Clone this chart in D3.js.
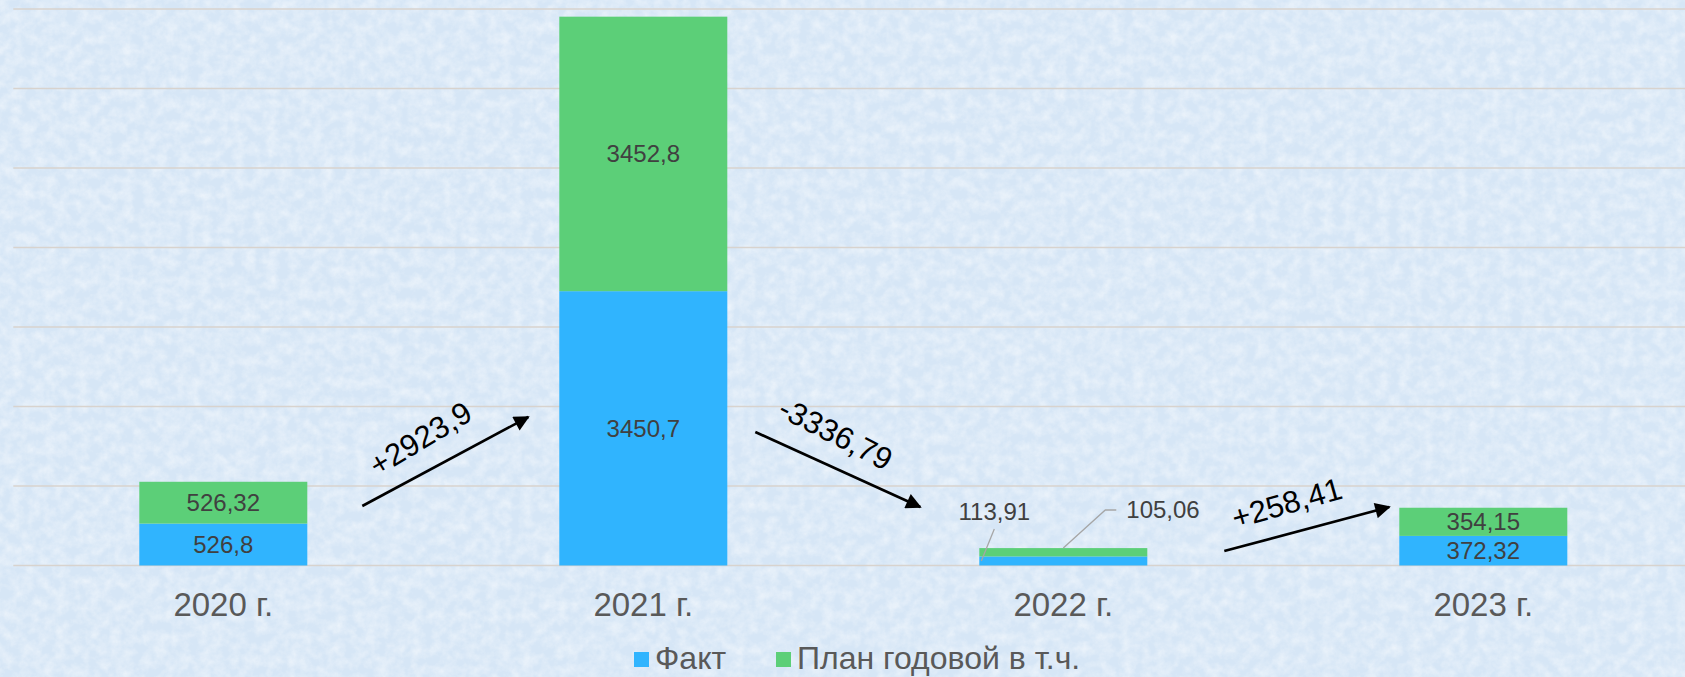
<!DOCTYPE html>
<html>
<head>
<meta charset="utf-8">
<script src="https://cdn.jsdelivr.net/npm/d3@7"></script>
<style>
  html, body { margin: 0; padding: 0; }
  body { width: 1685px; height: 677px; overflow: hidden; }
  text { font-family: "Liberation Sans", Arial, sans-serif; }
</style>
</head>
<body>
<div id="chart"></div>
<script>
// data
let years = ["2020 г.", "2021 г.", "2022 г.", "2023 г."];
let fact = [526.8, 3450.7, 113.91, 372.32];
let plan = [526.32, 3452.8, 105.06, 354.15];
let yTicks = [0, 1000, 2000, 3000, 4000, 5000, 6000, 7000];
let seriesNames = ["Факт", "План годовой в т.ч."];

// colors
let colors = ["#30b4fe", "#5ccf78"];

let W = 1685, H = 677;

let x = d3.scaleBand()
  .domain(years)
  .range([13.3, 1693.3])
  .paddingInner(0.6)
  .paddingOuter(0.3);

let y = d3.scaleLinear()
  .domain([0, 7000])
  .range([565.5, 9]);

let svg = d3.select("#chart").append("svg")
  .attr("width", W)
  .attr("height", H);

// background texture (light blue paper)
let defs = svg.append("defs");
let f = defs.append("filter").attr("id", "paper")
  .attr("x", 0).attr("y", 0).attr("width", "100%").attr("height", "100%");
f.append("feTurbulence")
  .attr("type", "fractalNoise")
  .attr("baseFrequency", "0.09")
  .attr("numOctaves", 4)
  .attr("seed", 11);
f.append("feColorMatrix")
  .attr("type", "matrix")
  .attr("values", "0 0 0 0 1  0 0 0 0 1  0 0 0 0 1  1.4 0 0 0 -0.45");

svg.append("rect").attr("width", W).attr("height", H).attr("fill", "#d6e6f6");
svg.append("rect").attr("width", W).attr("height", H)
  .attr("filter", "url(#paper)").attr("opacity", 0.6);

// gridlines
svg.append("g")
  .selectAll("line")
  .data(yTicks)
  .enter()
  .append("line")
  .attr("x1", x.range()[0])
  .attr("x2", x.range()[1])
  .attr("y1", d => y(d))
  .attr("y2", d => y(d))
  .attr("stroke", "#d8d3ce")
  .attr("stroke-width", 1.4);

// stacked bars
let stack = d3.stack().keys([0, 1])(years.map((yr, i) => ({0: fact[i], 1: plan[i], year: yr})));

let layers = svg.selectAll("g.layer")
  .data(stack)
  .enter()
  .append("g")
  .attr("fill", (d, i) => colors[i]);

layers.selectAll("rect")
  .data(d => d)
  .enter()
  .append("rect")
  .attr("x", d => x(d.data.year))
  .attr("width", x.bandwidth())
  .attr("y", d => y(d[1]))
  .attr("height", d => y(d[0]) - y(d[1]));

// value labels
function fmt(v) {
  return String(Math.round(v * 100) / 100).replace(".", ",");
}

let small = 2; // 2022 bar is too thin for inside labels

stack.forEach(function(layer, s) {
  layer.forEach(function(d, i) {
    if (i === small) return;
    svg.append("text")
      .attr("x", x(years[i]) + x.bandwidth() / 2)
      .attr("y", (y(d[0]) + y(d[1])) / 2)
      .attr("dy", "0.35em")
      .attr("text-anchor", "middle")
      .attr("font-size", 24)
      .attr("fill", "#404040")
      .text(fmt(s === 0 ? fact[i] : plan[i]));
  });
});

// outside labels with leader lines for 2022
let cx = x(years[small]);
let bw = x.bandwidth();
let leaders = [
  {val: fact[small], tx: cx + 15, ty: 520, anchor: "middle",
   pts: [[cx + 15, 529], [cx + 2, y(fact[small] / 2)]]},
  {val: plan[small], tx: cx + 147, ty: 518, anchor: "start",
   pts: [[cx + 137, 510], [cx + 126, 510], [cx + bw / 2, y(fact[small] + plan[small])]]}
];
leaders.forEach(function(l) {
  svg.append("path")
    .attr("d", d3.line()(l.pts))
    .attr("fill", "none")
    .attr("stroke", "#a6a6a6")
    .attr("stroke-width", 1.3);
  svg.append("text")
    .attr("x", l.tx)
    .attr("y", l.ty)
    .attr("text-anchor", l.anchor === "middle" ? "middle" : "start")
    .attr("font-size", 24)
    .attr("fill", "#404040")
    .text(fmt(l.val));
});

// category labels
svg.append("g")
  .selectAll("text")
  .data(years)
  .enter()
  .append("text")
  .attr("x", d => x(d) + x.bandwidth() / 2)
  .attr("y", 616)
  .attr("text-anchor", "middle")
  .attr("font-size", 33)
  .attr("fill", "#595959")
  .text(d => d);

// change arrows between years
defs.append("marker")
  .attr("id", "head")
  .attr("viewBox", "0 0 10 10")
  .attr("refX", 9).attr("refY", 5)
  .attr("markerWidth", 7).attr("markerHeight", 6)
  .attr("markerUnits", "strokeWidth")
  .attr("orient", "auto")
  .append("path")
  .attr("d", "M0,0L10,5L0,10Z")
  .attr("fill", "#000");

let arrows = [
  {from: 0, ox0: 139, y0: 506, ox1: -115, y1: 417, lx: -25, ly: -23, rot: -31},
  {from: 1, ox0: 112, y0: 432, ox1: -143, y1: 507, lx: -2, ly: -36, rot: 27},
  {from: 2, ox0: 161, y0: 551, ox1: -94, y1: 507, lx: -20, ly: -26, rot: -16}
];

arrows.forEach(function(a) {
  let c0 = x(years[a.from]) + bw / 2;
  let c1 = x(years[a.from + 1]) + bw / 2;
  let x0 = c0 + a.ox0, x1 = c1 + a.ox1;
  svg.append("line")
    .attr("x1", x0).attr("y1", a.y0)
    .attr("x2", x1).attr("y2", a.y1)
    .attr("stroke", "#000")
    .attr("stroke-width", 2.6)
    .attr("marker-end", "url(#head)");
  let delta = fact[a.from + 1] - fact[a.from];
  let label = (delta > 0 ? "+" : "") + fmt(delta);
  let mx = (x0 + x1) / 2 + a.lx, my = (a.y0 + a.y1) / 2 + a.ly;
  svg.append("text")
    .attr("transform", "translate(" + mx + "," + my + ") rotate(" + a.rot + ")")
    .attr("text-anchor", "middle")
    .attr("dy", "0.35em")
    .attr("font-size", 31)
    .attr("fill", "#000")
    .text(label);
});

// legend
let legend = svg.append("g");
let legX = [634, 776];
seriesNames.forEach(function(name, i) {
  legend.append("rect")
    .attr("x", legX[i]).attr("y", 652)
    .attr("width", 15).attr("height", 15)
    .attr("fill", colors[i]);
  legend.append("text")
    .attr("x", legX[i] + 21)
    .attr("y", 669)
    .attr("font-size", 32)
    .attr("fill", "#595959")
    .text(name);
});
</script>
</body>
</html>
